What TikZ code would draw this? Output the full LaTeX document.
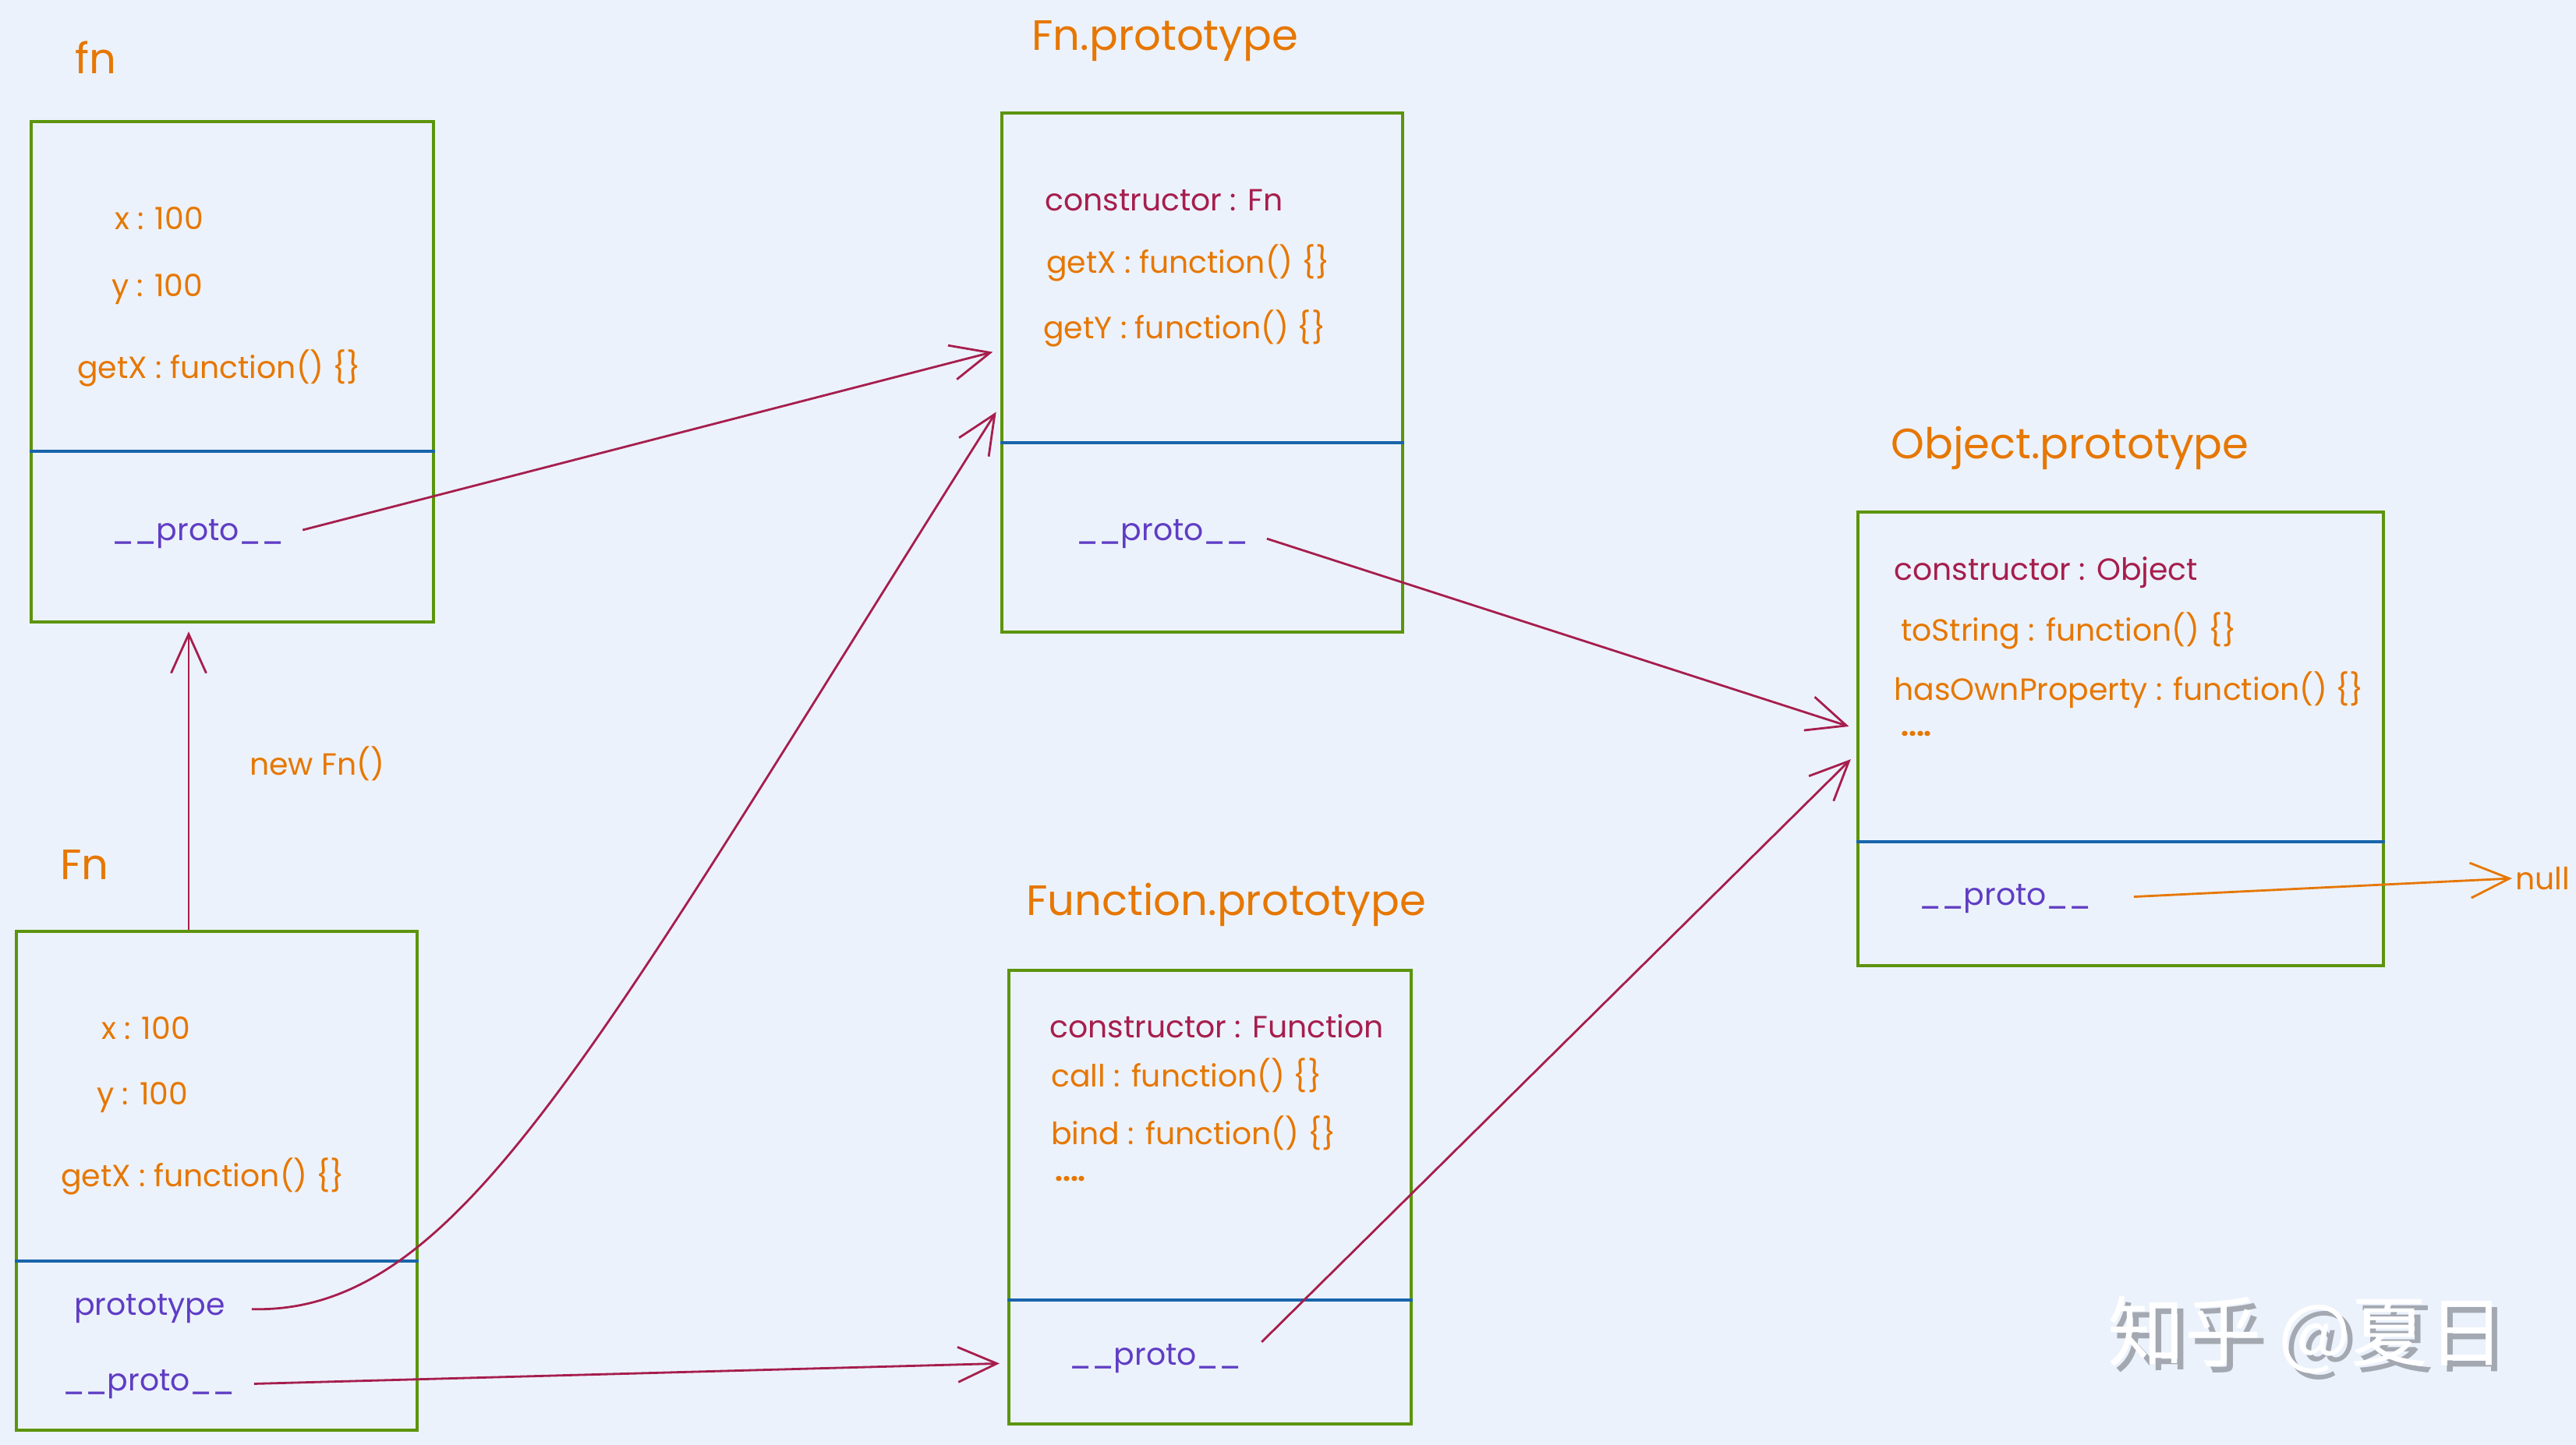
\documentclass[tikz,border=0pt]{standalone}
\usepackage{fontspec}
\setmainfont{Poppins}
\newfontfamily\cjk{Noto Sans CJK SC}
\usetikzlibrary{arrows.meta, calc}

\definecolor{bgblue}{HTML}{ECF2FC}
\definecolor{boxgreen}{HTML}{5C940D}
\definecolor{sepblue}{HTML}{1864AB}
\definecolor{txtorange}{HTML}{E67700}
\definecolor{keypurple}{HTML}{5F3DC4}
\definecolor{linkred}{HTML}{A61E4D}
\definecolor{markgray}{HTML}{A3A8B1}

\newcommand{\wmtext}{知乎 @夏日}

\begin{document}
\begin{tikzpicture}[
    font=\fontsize{11.2}{13}\selectfont,
    objbox/.style={draw=boxgreen, line width=1.2pt, anchor=north west, inner sep=0pt},
    divline/.style={draw=sepblue, line width=1pt},
    heading/.style={anchor=west, text=txtorange, font=\fontsize{15.5}{18}\selectfont},
    field/.style={anchor=west, text=txtorange, inner sep=1pt},
    ctorfield/.style={anchor=west, text=linkred, inner sep=1pt},
    protofield/.style={anchor=west, text=keypurple, inner sep=1pt},
    link/.style={draw=linkred, line width=0.8pt, -{Straight Barb[length=5mm, width=4.5mm]}, shorten <=2mm, shorten >=1mm}
]

% Canvas
\fill[bgblue] (0,0) rectangle (33.04,-18.54);
\useasboundingbox (0,0) rectangle (33.04,-18.54);

% Boxes
\node[objbox, minimum width=5.16cm, minimum height=6.42cm] (instbox) at (0.38,-1.54) {};
\node[objbox, minimum width=5.14cm, minimum height=6.40cm] (ctorbox) at (0.19,-11.93) {};
\node[objbox, minimum width=5.14cm, minimum height=6.66cm] (fnpbox) at (12.83,-1.43) {};
\node[objbox, minimum width=5.16cm, minimum height=5.82cm] (funcpbox) at (12.92,-12.43) {};
\node[objbox, minimum width=6.74cm, minimum height=5.82cm] (objpbox) at (23.81,-6.55) {};

% Split own props from __proto__
\foreach \b in {instbox, ctorbox, fnpbox, funcpbox, objpbox}
  \draw[divline] ([yshift=-4.25cm]\b.north west) -- ([yshift=-4.25cm]\b.north east);

% Headings
\node[heading] (insttitle) at (0.84,-0.74) {fn};
\node[heading] (ctortitle) at (0.65,-11.10) {Fn};
\node[heading] (fnptitle) at (13.11,-0.53) {Fn.prototype};
\node[heading] (funcptitle) at (13.04,-11.61) {Function.prototype};
\node[heading] (objptitle) at (24.13,-5.75) {Object.prototype};

% fn (instance)
\node[field] (instx) at (1.43,-2.80) {x : 100};
\node[field] (insty) at (1.39,-3.71) {y : 100};
\node[field] (instget) at (0.95,-4.72) {getX : function() \{\}};
\node[protofield] (instproto) at (1.39,-6.85) {\_\_proto\_\_};

% Fn (constructor)
\node[field] (ctorx) at (1.26,-13.19) {x : 100};
\node[field] (ctory) at (1.20,-14.08) {y : 100};
\node[field] (ctorget) at (0.74,-15.09) {getX : function() \{\}};
\node[protofield] (ctorprototype) at (0.91,-16.79) {prototype};
\node[protofield] (ctorproto) at (0.76,-17.76) {\_\_proto\_\_};

% Fn.prototype
\node[ctorfield] (fnpctor) at (13.36,-2.57) {constructor : Fn};
\node[field] (fnpgetx) at (13.38,-3.37) {getX : function() \{\}};
\node[field] (fnpgety) at (13.34,-4.21) {getY : function() \{\}};
\node[protofield] (fnpproto) at (13.76,-6.85) {\_\_proto\_\_};

% Function.prototype
\node[ctorfield] (funcpctor) at (13.42,-13.17) {constructor : Function};
\node[field] (funcpcall) at (13.44,-13.80) {call : function() \{\}};
\node[field] (funcpbind) at (13.44,-14.54) {bind : function() \{\}};
\node[field, font=\bfseries] (funcpmore) at (13.49,-15.13) {....};
\node[protofield] (funcpproto) at (13.67,-17.43) {\_\_proto\_\_};

% Object.prototype
\node[ctorfield] (objpctor) at (24.25,-7.35) {constructor : Object};
\node[field] (objpstr) at (24.34,-8.09) {toString : function() \{\}};
\node[field] (objpown) at (24.25,-8.85) {hasOwnProperty : function() \{\}};
\node[field, font=\bfseries] (objpmore) at (24.34,-9.42) {....};
\node[protofield] (objpproto) at (24.57,-11.53) {\_\_proto\_\_};

% Free labels
\node[field] (newlabel) at (3.16,-9.80) {new Fn()};
\node[field] (nulltxt) at (32.22,-11.27) {null};

% Watermark (gray shadow under white text)
\node[text=white, font=\cjk\fontsize{28}{30}\selectfont] (wm) at (29.58,-17.17)
  {\rlap{\hspace{0.8mm}\raisebox{-0.8mm}{\color{markgray}\wmtext}}\wmtext};

% Connections
\draw[link, shorten <=0pt] ([xshift=2.23cm]ctorbox.north west) coordinate (newfrom) -- (newfrom |- instbox.south);

\draw[link] (instproto.east) -- ([yshift=0.29cm]fnpbox.west);
\draw[link, shorten <=3mm] (ctorprototype.east) .. controls (5.90,-16.86) and (7.59,-13.49) .. ([yshift=-0.42cm]fnpbox.west);
\draw[link] (ctorproto.east) -- ([yshift=-2.13cm]funcpbox.west);

\draw[link] (fnpproto.east) -- ([yshift=0.13cm]objpbox.west);
\draw[link, shorten <=3mm] (funcpproto.east) -- ([yshift=-0.19cm]objpbox.west);

\draw[link, draw=txtorange, shorten <=5mm, shorten >=0pt] (objpproto.east) -- (nulltxt.west);

\end{tikzpicture}
\end{document}
